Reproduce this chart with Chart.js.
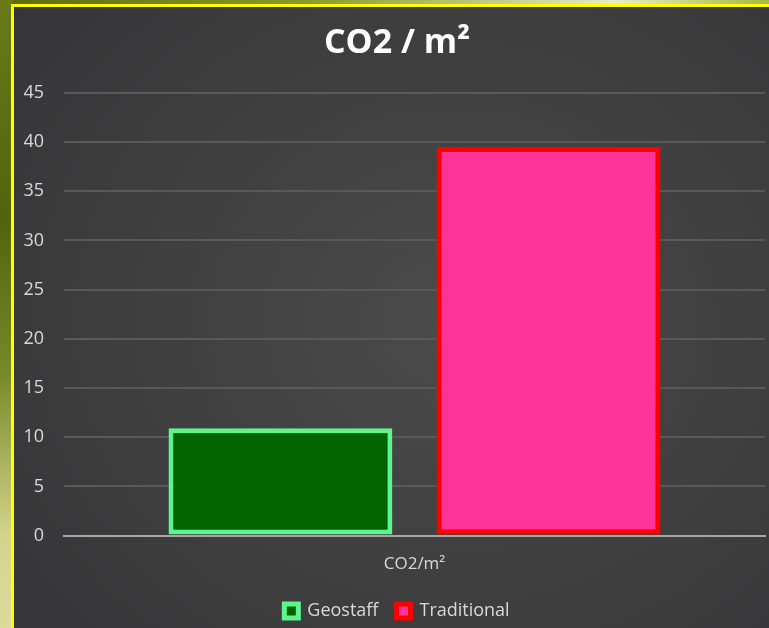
<!DOCTYPE html>
<html>
<head>
<meta charset="utf-8">
<script src="https://cdn.jsdelivr.net/npm/chart.js@4.4.1/dist/chart.umd.min.js"></script>
<style>
    html, body {
        margin: 0;
        padding: 0;
        width: 769px;
        height: 628px;
        overflow: hidden;
        background: linear-gradient(90deg, #5a6a12 0%, #8a9a2a 40%, #e8ecc8 80%, #a8b840 100%);
    }
    .side-strip {
        position: absolute;
        left: 0;
        top: 0;
        width: 12px;
        height: 628px;
        background: linear-gradient(180deg, #6a7a18 0%, #52640c 35%, #7a8a28 60%, #d2d48a 85%, #dcdc9a 100%);
    }
    .chart-container {
        position: absolute;
        left: 11px;
        top: 4px;
        width: 800px;
        height: 700px;
        border: 3px solid #ffff00;
        background: radial-gradient(ellipse at 55% 45%, #4b4b4b 0%, #404040 45%, #333336 100%);
        overflow: hidden;
    }
    .chart-box {
        position: absolute;
        left: 0;
        top: 0;
        width: 766px;
        height: 623px;
    }
</style>
</head>
<body>
<div class="side-strip"></div>
<div class="chart-container">
    <div class="chart-box">
        <canvas id="chart"></canvas>
    </div>
</div>
<script>
// chart data
var categories = ['CO2/m²']
var seriesNames = ['Geostaff', 'Traditional']
var geostaffValues = [10.9]
var traditionalValues = [39.5]
var yTicks = [0, 5, 10, 15, 20, 25, 30, 35, 40, 45]

var labelColor = '#d9d9d9'
var fontFamily = "'Open Sans', 'Noto Sans', sans-serif"

var ctx = document.getElementById('chart')
var myBarChart = new Chart(ctx, {
    type: 'bar',
    data: {
        labels: categories,
        datasets: [{
            label: seriesNames[0],
            data: geostaffValues,
            backgroundColor: '#006400',
            borderColor: '#5ef58f',
            borderWidth: 5,
            borderSkipped: false
        }, {
            label: seriesNames[1],
            data: traditionalValues,
            backgroundColor: '#ff3399',
            borderColor: '#ff0000',
            borderWidth: 5,
            borderSkipped: false
        }]
    },
    options: {
        responsive: true,
        maintainAspectRatio: false,
        animation: false,
        layout: {
            padding: 0
        },
        datasets: {
            bar: {
                categoryPercentage: 0.765,
                barPercentage: 0.835
            }
        },
        plugins: {
            title: {
                display: true,
                text: 'CO2 / m²',
                color: '#ffffff',
                font: { family: fontFamily, size: 34, weight: 'bold' },
                padding: { top: 16, bottom: 29 }
            },
            legend: {
                position: 'bottom',
                labels: {
                    color: labelColor,
                    font: { family: fontFamily, size: 18 },
                    boxWidth: 14,
                    boxHeight: 14,
                    padding: 18
                }
            },
            tooltip: { enabled: false }
        },
        scales: {
            x: {
                grid: { display: false },
                border: { display: true, color: '#a6a6a6', width: 2 },
                ticks: {
                    color: labelColor,
                    font: { family: fontFamily, size: 17 },
                    padding: 10
                }
            },
            y: {
                min: 0,
                max: 45,
                afterBuildTicks: function(axis) {
                    axis.ticks = yTicks.map(function(v) { return { value: v } })
                },
                afterFit: function(axis) {
                    axis.width = 50
                },
                grid: {
                    color: function(context) {
                        return context.tick && context.tick.value === 0 ? 'rgba(0,0,0,0)' : '#595959'
                    },
                    lineWidth: 2,
                    drawTicks: false
                },
                border: { display: false },
                ticks: {
                    color: labelColor,
                    font: { family: fontFamily, size: 18 },
                    padding: 20
                }
            },
            // empty axis on the right, only keeps the plot clear of the edge
            yRight: {
                position: 'right',
                display: true,
                afterFit: function(axis) {
                    axis.width = 15
                },
                grid: { display: false },
                border: { display: false },
                ticks: { display: false }
            }
        }
    }
})
</script>
</body>
</html>
